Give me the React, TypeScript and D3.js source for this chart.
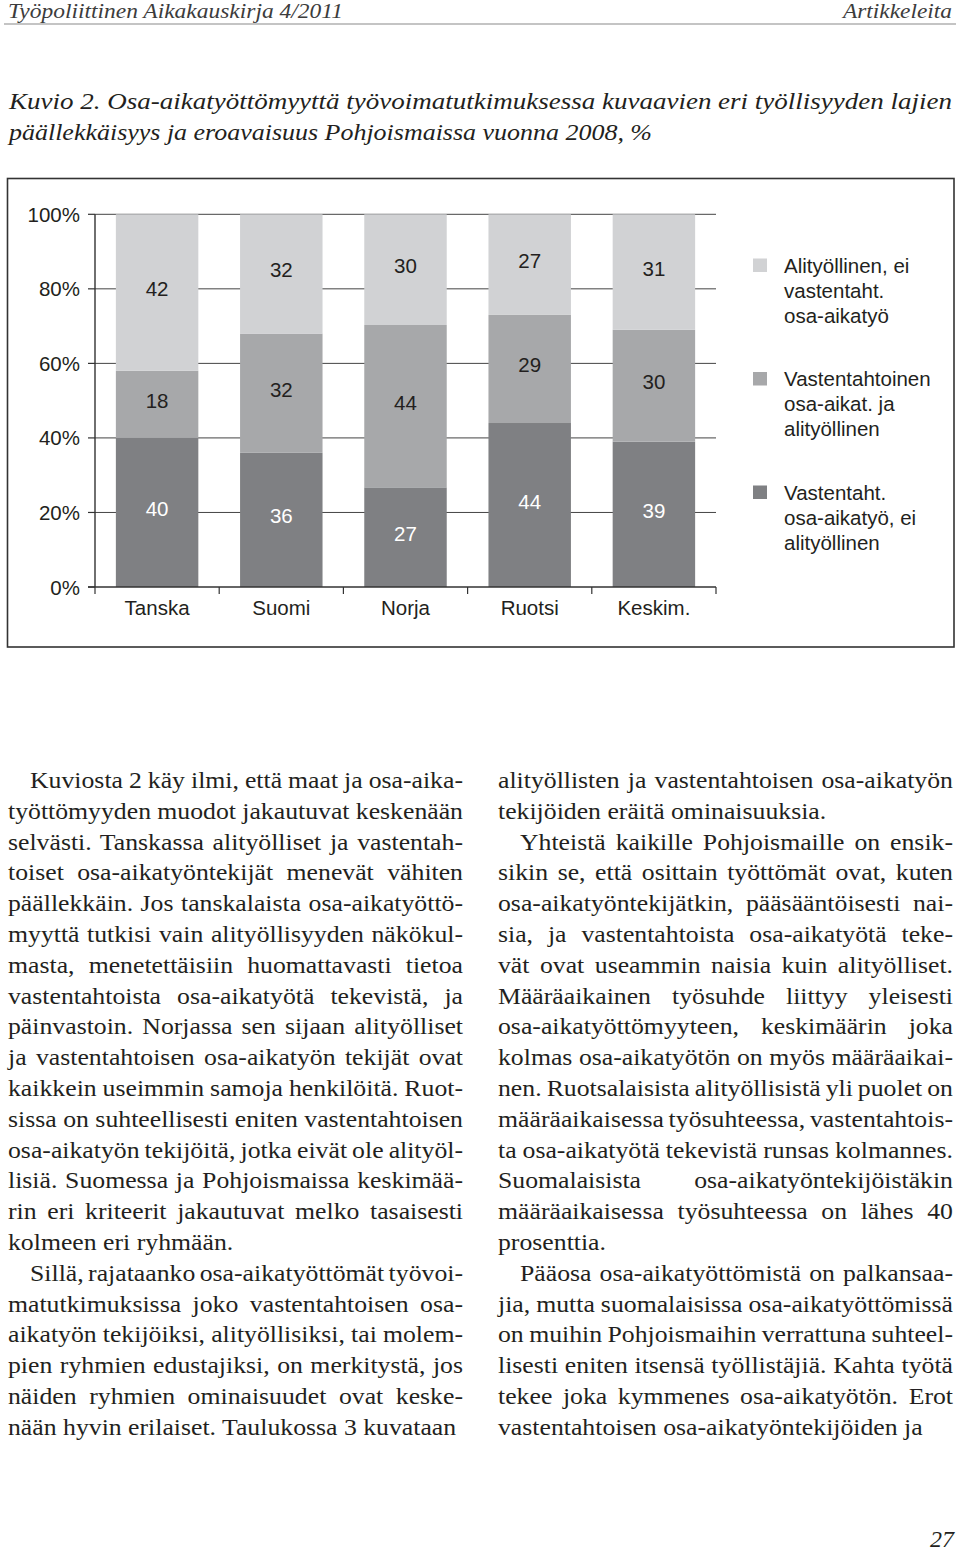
import React, { useEffect, useRef } from "react";
import * as d3 from "d3";

// ---------- chart data ----------
const categories = ["Tanska", "Suomi", "Norja", "Ruotsi", "Keskim."];
const vastNotAli = [40, 36, 27, 44, 39]; // Vastentaht. osa-aikatyö, ei alityöllinen
const bothVals = [18, 32, 44, 29, 30]; // Vastentahtoinen osa-aikat. ja alityöllinen
const aliNotVast = [42, 32, 30, 27, 31]; // Alityöllinen, ei vastentaht. osa-aikatyö
const seriesKeys = ["vastNotAli", "both", "aliNotVast"];
const seriesColors = ["#7f8083", "#a7a8aa", "#d1d2d4"];
const seriesLabelColors = ["#ffffff", "#231f20", "#231f20"];
const legendLines = [
  ["Vastentaht.", "osa-aikatyö, ei", "alityöllinen"],
  ["Vastentahtoinen", "osa-aikat. ja", "alityöllinen"],
  ["Alityöllinen, ei", "vastentaht.", "osa-aikatyö"],
];
const legendOrder = [2, 1, 0];
const yTicks = [0, 0.2, 0.4, 0.6, 0.8, 1];
const yTickLabels = ["0%", "20%", "40%", "60%", "80%", "100%"];

// ---------- page text ----------
const headerLeft = "Työpoliittinen Aikakauskirja 4/2011";
const headerRight = "Artikkeleita";
const captionLines = [
  "Kuvio 2. Osa-aikatyöttömyyttä työvoimatutkimuksessa kuvaavien eri työllisyyden lajien",
  "päällekkäisyys ja eroavaisuus Pohjoismaissa vuonna 2008, %",
];
const leftColumn = [
  [
    "Kuviosta 2 käy ilmi, että maat ja osa-aika-",
    "työttömyyden muodot jakautuvat keskenään",
    "selvästi. Tanskassa alityölliset ja vastentah-",
    "toiset osa-aikatyöntekijät menevät vähiten",
    "päällekkäin. Jos tanskalaista osa-aikatyöttö-",
    "myyttä tutkisi vain alityöllisyyden näkökul-",
    "masta, menetettäisiin huomattavasti tietoa",
    "vastentahtoista osa-aikatyötä tekevistä, ja",
    "päinvastoin. Norjassa sen sijaan alityölliset",
    "ja vastentahtoisen osa-aikatyön tekijät ovat",
    "kaikkein useimmin samoja henkilöitä. Ruot-",
    "sissa on suhteellisesti eniten vastentahtoisen",
    "osa-aikatyön tekijöitä, jotka eivät ole alityöl-",
    "lisiä. Suomessa ja Pohjoismaissa keskimää-",
    "rin eri kriteerit jakautuvat melko tasaisesti",
    "kolmeen eri ryhmään.",
  ],
  [
    "Sillä, rajataanko osa-aikatyöttömät työvoi-",
    "matutkimuksissa joko vastentahtoisen osa-",
    "aikatyön tekijöiksi, alityöllisiksi, tai molem-",
    "pien ryhmien edustajiksi, on merkitystä, jos",
    "näiden ryhmien ominaisuudet ovat keske-",
    "nään hyvin erilaiset. Taulukossa 3 kuvataan",
  ],
];
const rightColumn = [
  [
    "alityöllisten ja vastentahtoisen osa-aikatyön",
    "tekijöiden eräitä ominaisuuksia.",
  ],
  [
    "Yhteistä kaikille Pohjoismaille on ensik-",
    "sikin se, että osittain työttömät ovat, kuten",
    "osa-aikatyöntekijätkin, pääsääntöisesti nai-",
    "sia, ja vastentahtoista osa-aikatyötä teke-",
    "vät ovat useammin naisia kuin alityölliset.",
    "Määräaikainen työsuhde liittyy yleisesti",
    "osa-aikatyöttömyyteen, keskimäärin joka",
    "kolmas osa-aikatyötön on myös määräaikai-",
    "nen. Ruotsalaisista alityöllisistä yli puolet on",
    "määräaikaisessa työsuhteessa, vastentahtois-",
    "ta osa-aikatyötä tekevistä runsas kolmannes.",
    "Suomalaisista osa-aikatyöntekijöistäkin",
    "määräaikaisessa työsuhteessa on lähes 40",
    "prosenttia.",
  ],
  [
    "Pääosa osa-aikatyöttömistä on palkansaa-",
    "jia, mutta suomalaisissa osa-aikatyöttömissä",
    "on muihin Pohjoismaihin verrattuna suhteel-",
    "lisesti eniten itsensä työllistäjiä. Kahta työtä",
    "tekee joka kymmenes osa-aikatyötön. Erot",
    "vastentahtoisen osa-aikatyöntekijöiden ja",
  ],
];
const pageNumber = "27";

const SANS = "'Liberation Sans', Arial, Helvetica, sans-serif";
const SERIF = "'Liberation Serif', 'Times New Roman', serif";
const INK = "#231f20";

// layout
const PLOT = { left: 95, right: 716, top: 214.3, bottom: 587 };
const BODY = { fs: 23, sx: 1.12, y0: 788, lh: 30.8, indent: 22 };
const COLS = [
  { x0: 8, x1: 463, paras: leftColumn, firstIndent: true },
  { x0: 498, x1: 953, paras: rightColumn, firstIndent: false },
];

type Line = { text: string; x: number; y: number; width: number; justify: boolean };

function buildLines(): Line[] {
  const out: Line[] = [];
  COLS.forEach((col) => {
    let row = 0;
    col.paras.forEach((para, pi) => {
      para.forEach((text, li) => {
        const indent = li === 0 && (pi > 0 || col.firstIndent) ? BODY.indent : 0;
        out.push({
          text,
          x: col.x0 + indent,
          y: BODY.y0 + row * BODY.lh,
          width: col.x1 - col.x0 - indent,
          justify: li < para.length - 1,
        });
        row++;
      });
    });
  });
  return out;
}

export default function App() {
  const bodyRef = useRef<SVGGElement | null>(null);

  const x = d3
    .scaleBand<string>()
    .domain(categories)
    .range([PLOT.left, PLOT.right])
    .paddingInner(0.336)
    .paddingOuter(0.168);
  const y = d3.scaleLinear().domain([0, 1]).range([PLOT.bottom, PLOT.top]);

  const table = categories.map((c, i) => ({
    cat: c,
    vastNotAli: vastNotAli[i],
    both: bothVals[i],
    aliNotVast: aliNotVast[i],
  }));
  const stacked = d3
    .stack<any>()
    .keys(seriesKeys)
    .offset(d3.stackOffsetExpand)(table);

  const step = x.step();
  const boundaries = d3.range(categories.length + 1).map((i) => PLOT.left + i * step);

  const lines = buildLines();

  useEffect(() => {
    const g = bodyRef.current;
    if (!g) return;
    g.querySelectorAll("text[data-justify='1']").forEach((node) => {
      const el = node as SVGTextElement;
      el.removeAttribute("word-spacing");
      const natural = el.getComputedTextLength();
      const target = parseFloat(el.getAttribute("data-target") || "0");
      const spaces = (el.textContent || "").split(" ").length - 1;
      if (spaces > 0) {
        el.setAttribute("word-spacing", String((target - natural) / spaces));
      }
    });
  });

  return (
    <svg
      width={960}
      height={1551}
      viewBox="0 0 960 1551"
      style={{ position: "absolute", left: 0, top: 0, display: "block", background: "#fff" }}
    >
      <rect x={0} y={0} width={960} height={1551} fill="#fff" />
      {/* header */}
      <text
        x={8}
        y={18}
        fontFamily={SERIF}
        fontStyle="italic"
        fontSize={21}
        fill="#3c3c3c"
        textLength={335}
        lengthAdjust="spacingAndGlyphs"
      >
        {headerLeft}
      </text>
      <text
        x={843}
        y={18}
        fontFamily={SERIF}
        fontStyle="italic"
        fontSize={21}
        fill="#3c3c3c"
        textLength={109}
        lengthAdjust="spacingAndGlyphs"
      >
        {headerRight}
      </text>
      <line x1={4} x2={956} y1={24} y2={24} stroke="#8a8a8a" strokeWidth={1.2} />

      {/* caption */}
      <text
        x={9}
        y={109}
        fontFamily={SERIF}
        fontStyle="italic"
        fontSize={24}
        fill={INK}
        textLength={943}
        lengthAdjust="spacingAndGlyphs"
      >
        {captionLines[0]}
      </text>
      <text
        x={9}
        y={140}
        fontFamily={SERIF}
        fontStyle="italic"
        fontSize={24}
        fill={INK}
        textLength={643}
        lengthAdjust="spacingAndGlyphs"
      >
        {captionLines[1]}
      </text>

      {/* chart frame */}
      <rect x={7.5} y={178.5} width={946.5} height={468.5} fill="none" stroke="#333" strokeWidth={1.6} />

      {/* gridlines */}
      {yTicks
        .filter((t) => t > 0)
        .map((t) => (
          <line key={"g" + t} x1={PLOT.left} x2={PLOT.right} y1={y(t)} y2={y(t)} stroke="#444" strokeWidth={1} />
        ))}

      {/* bars */}
      {stacked.map((s, si) =>
        s.map((d: any, i: number) => (
          <rect
            key={`b${si}-${i}`}
            x={x(categories[i])}
            y={y(d[1])}
            width={x.bandwidth()}
            height={y(d[0]) - y(d[1])}
            fill={seriesColors[si]}
          />
        ))
      )}

      {/* value labels */}
      {stacked.map((s, si) =>
        s.map((d: any, i: number) => (
          <text
            key={`v${si}-${i}`}
            x={(x(categories[i]) as number) + x.bandwidth() / 2}
            y={(y(d[0]) + y(d[1])) / 2 - 4}
            textAnchor="middle"
            dominantBaseline="central"
            fontFamily={SANS}
            fontSize={20.5}
            fill={seriesLabelColors[si]}
          >
            {(d.data as any)[seriesKeys[si]]}
          </text>
        ))
      )}

      {/* axes */}
      <line x1={PLOT.left} x2={PLOT.left} y1={PLOT.top} y2={PLOT.bottom} stroke="#333" strokeWidth={1.4} />
      <line x1={PLOT.left - 7} x2={PLOT.right} y1={PLOT.bottom} y2={PLOT.bottom} stroke="#333" strokeWidth={1.4} />
      {yTicks.map((t, i) => (
        <g key={"yt" + t}>
          <line x1={PLOT.left - 7} x2={PLOT.left} y1={y(t)} y2={y(t)} stroke="#333" strokeWidth={1.2} />
          <text
            x={80}
            y={y(t)}
            textAnchor="end"
            dominantBaseline="central"
            fontFamily={SANS}
            fontSize={20.5}
            fill={INK}
          >
            {yTickLabels[i]}
          </text>
        </g>
      ))}
      {boundaries.map((bx, i) => (
        <line key={"xt" + i} x1={bx} x2={bx} y1={PLOT.bottom} y2={PLOT.bottom + 7} stroke="#333" strokeWidth={1.2} />
      ))}
      {categories.map((c) => (
        <text
          key={"c" + c}
          x={(x(c) as number) + x.bandwidth() / 2}
          y={607}
          textAnchor="middle"
          dominantBaseline="central"
          fontFamily={SANS}
          fontSize={20.5}
          fill={INK}
        >
          {c}
        </text>
      ))}

      {/* legend */}
      {legendOrder.map((si, k) => {
        const ly = 265 + k * 113.5;
        return (
          <g key={"lg" + si}>
            <rect x={753} y={ly - 6.5} width={14} height={13.5} fill={seriesColors[si]} />
            {legendLines[si].map((t, j) => (
              <text
                key={j}
                x={784}
                y={ly + j * 25}
                dominantBaseline="central"
                fontFamily={SANS}
                fontSize={20.5}
                fill={INK}
              >
                {t}
              </text>
            ))}
          </g>
        );
      })}

      {/* body text */}
      <g ref={bodyRef} fontFamily={SERIF} fontSize={BODY.fs} fill={INK}>
        {lines.map((l, i) => (
          <text
            key={"l" + i}
            transform={`translate(${l.x},${l.y}) scale(${BODY.sx},1)`}
            data-justify={l.justify ? "1" : "0"}
            data-target={l.width / BODY.sx}
          >
            {l.text}
          </text>
        ))}
      </g>

      {/* page number */}
      <text x={930} y={1547} fontFamily={SERIF} fontStyle="italic" fontSize={24} fill={INK}>
        {pageNumber}
      </text>
    </svg>
  );
}
